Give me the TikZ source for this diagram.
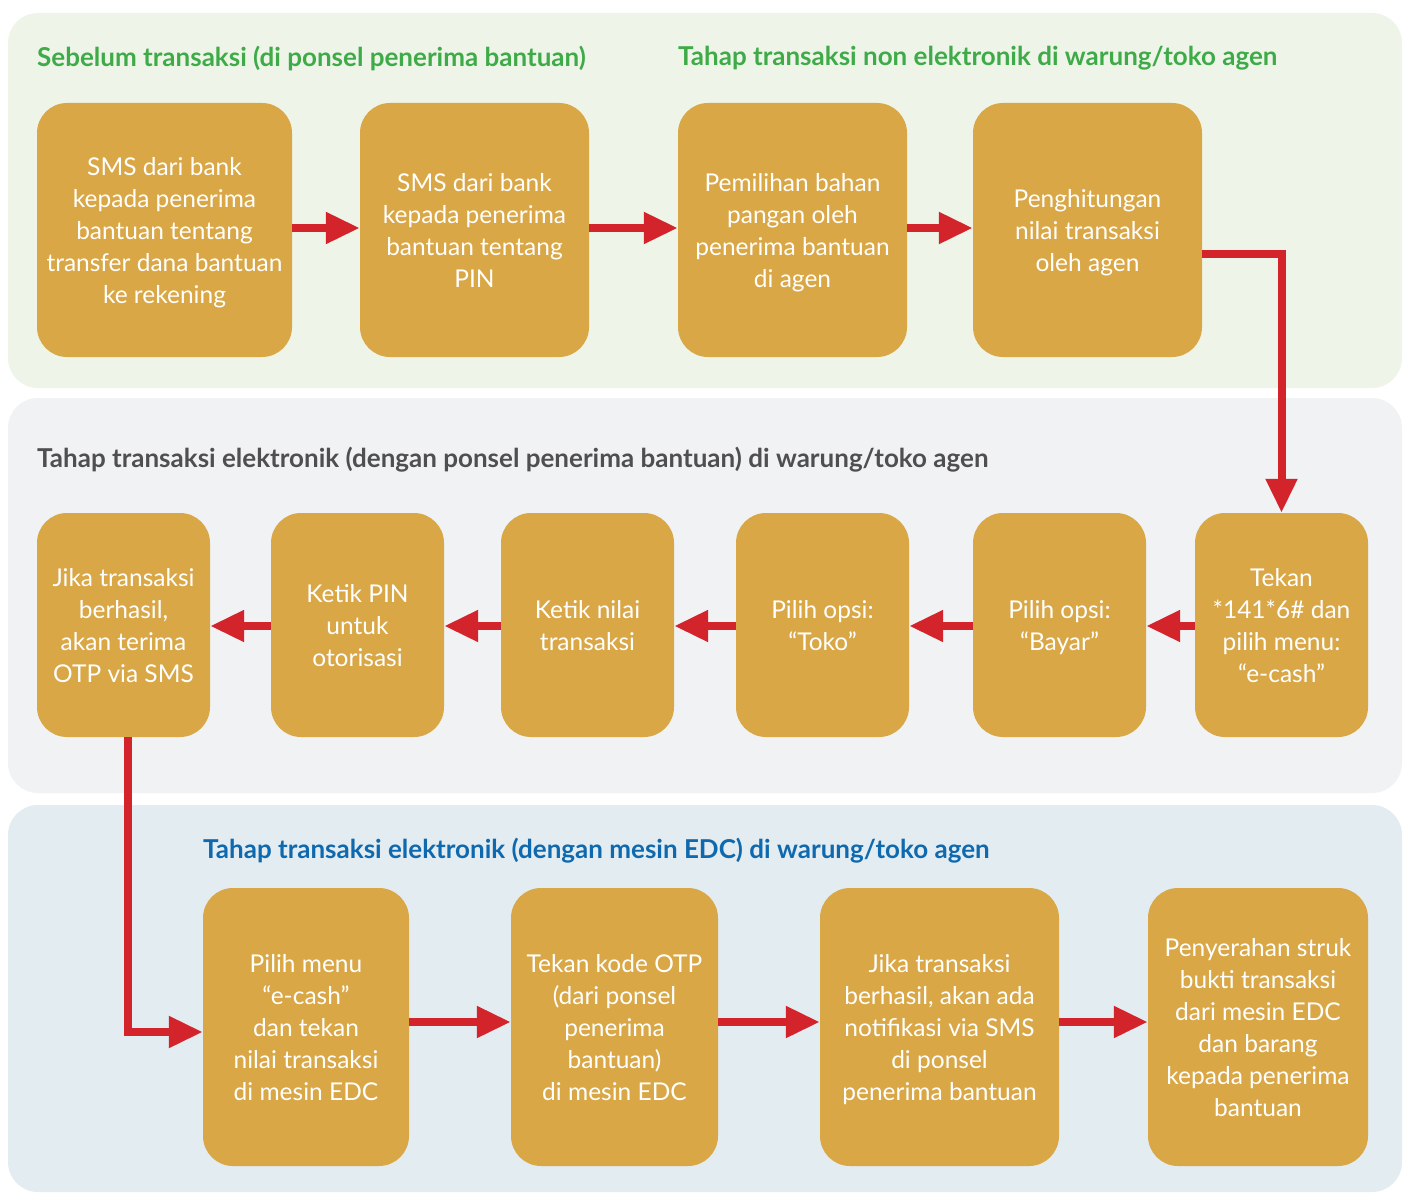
\documentclass[tikz,border=0pt]{standalone}
\usepackage{fontspec}
\setmainfont{Lato}
\usetikzlibrary{arrows.meta}
\definecolor{pgreen}{HTML}{EEF5E8}
\definecolor{pgrey}{HTML}{F0F2F4}
\definecolor{pblue}{HTML}{E3ECF1}
\definecolor{boxfill}{HTML}{D9A745}
\definecolor{arrred}{HTML}{D3242B}
\definecolor{hgreen}{HTML}{3FAB48}
\definecolor{hgrey}{HTML}{4F4F51}
\definecolor{hblue}{HTML}{0E69AF}
\tikzset{
  panel/.style={rounded corners=30pt, draw=none},
  stepbox/.style={fill=boxfill, rounded corners=30pt, inner sep=0pt, align=center,
    text=white, font=\fontsize{24.5}{32}\selectfont, text depth=-4pt},
  heading/.style={anchor=west, inner sep=0pt, font=\bfseries\fontsize{26}{30}\selectfont},
  arr/.style={draw=arrred, line width=8pt, -{Triangle[width=30pt,length=34pt]}}
}
\begin{document}
\begin{tikzpicture}[x=1pt,y=-1pt]
\useasboundingbox (0,0) rectangle (1407,1193);
\fill[white] (0,0) rectangle (1407,1193);
% panels
\fill[pgreen, panel] (8,13) rectangle (1402,388);
\fill[pgrey, panel] (8,398) rectangle (1402,793);
\fill[pblue, panel] (8,805) rectangle (1402,1192);
% headings
\node[heading, text=hgreen] (h1) at (37,58) {Sebelum transaksi (di ponsel penerima bantuan)};
\node[heading, text=hgreen] (h2) at (678,58) {Tahap transaksi non elektronik di warung/toko agen};
\node[heading, text=hgrey] (h3) at (37,460) {Tahap transaksi elektronik (dengan ponsel penerima bantuan) di warung/toko agen};
\node[heading, text=hblue] (h4) at (203,851) {Tahap transaksi elektronik (dengan mesin EDC) di warung/toko agen};
% row 1
\node[stepbox, minimum width=255pt, minimum height=254pt] (A1) at (164.5,230) {SMS dari bank\\kepada penerima\\bantuan tentang\\transfer dana bantuan\\ke rekening};
\node[stepbox, minimum width=229pt, minimum height=254pt] (A2) at (474.5,230) {SMS dari bank\\kepada penerima\\bantuan tentang\\PIN};
\node[stepbox, minimum width=229pt, minimum height=254pt] (A3) at (792.5,230) {Pemilihan bahan\\pangan oleh\\penerima bantuan\\di agen};
\node[stepbox, minimum width=229pt, minimum height=254pt] (A4) at (1087.5,230) {Penghitungan\\nilai transaksi\\oleh agen};
% row 2
\node[stepbox, minimum width=173pt, minimum height=224pt] (B1) at (123.5,625) {Jika transaksi\\berhasil,\\akan terima\\OTP via SMS};
\node[stepbox, minimum width=173pt, minimum height=224pt] (B2) at (357.5,625) {Ketik PIN\\untuk\\otorisasi};
\node[stepbox, minimum width=173pt, minimum height=224pt] (B3) at (587.5,625) {Ketik nilai\\transaksi};
\node[stepbox, minimum width=173pt, minimum height=224pt] (B4) at (822.5,625) {Pilih opsi:\\“Toko”};
\node[stepbox, minimum width=173pt, minimum height=224pt] (B5) at (1059.5,625) {Pilih opsi:\\“Bayar”};
\node[stepbox, minimum width=173pt, minimum height=224pt] (B6) at (1281.5,625) {Tekan\\*141*6\# dan\\pilih menu:\\“e-cash”};
% row 3
\node[stepbox, minimum width=206pt, minimum height=278pt] (C1) at (306,1027) {Pilih menu\\“e-cash”\\dan tekan\\nilai transaksi\\di mesin EDC};
\node[stepbox, minimum width=207pt, minimum height=278pt] (C2) at (614.5,1027) {Tekan kode OTP\\(dari ponsel\\penerima\\bantuan)\\di mesin EDC};
\node[stepbox, minimum width=239pt, minimum height=278pt] (C3) at (939.5,1027) {Jika transaksi\\berhasil, akan ada\\notifikasi via SMS\\di ponsel\\penerima bantuan};
\node[stepbox, minimum width=220pt, minimum height=278pt] (C4) at (1258,1027) {Penyerahan struk\\bukti transaksi\\dari mesin EDC\\dan barang\\kepada penerima\\bantuan};
% connectors
\draw[arr] ([yshift=2pt]A1.east) -- ([yshift=2pt]A2.west);
\draw[arr] ([yshift=2pt]A2.east) -- ([yshift=2pt]A3.west);
\draw[arr] ([yshift=2pt]A3.east) -- ([yshift=2pt]A4.west);
\draw[arr] ([yshift=-24pt]A4.east) -| (B6.north);
\draw[arr] ([yshift=-1pt]B6.west) -- ([yshift=-1pt]B5.east);
\draw[arr] ([yshift=-1pt]B5.west) -- ([yshift=-1pt]B4.east);
\draw[arr] ([yshift=-1pt]B4.west) -- ([yshift=-1pt]B3.east);
\draw[arr] ([yshift=-1pt]B3.west) -- ([yshift=-1pt]B2.east);
\draw[arr] ([yshift=-1pt]B2.west) -- ([yshift=-1pt]B1.east);
\draw[arr] ([xshift=4pt]B1.south) |- ([yshift=-5pt]C1.west);
\draw[arr] ([yshift=5pt]C1.east) -- ([yshift=5pt]C2.west);
\draw[arr] ([yshift=5pt]C2.east) -- ([yshift=5pt]C3.west);
\draw[arr] ([yshift=5pt]C3.east) -- ([yshift=5pt]C4.west);
\end{tikzpicture}
\end{document}
